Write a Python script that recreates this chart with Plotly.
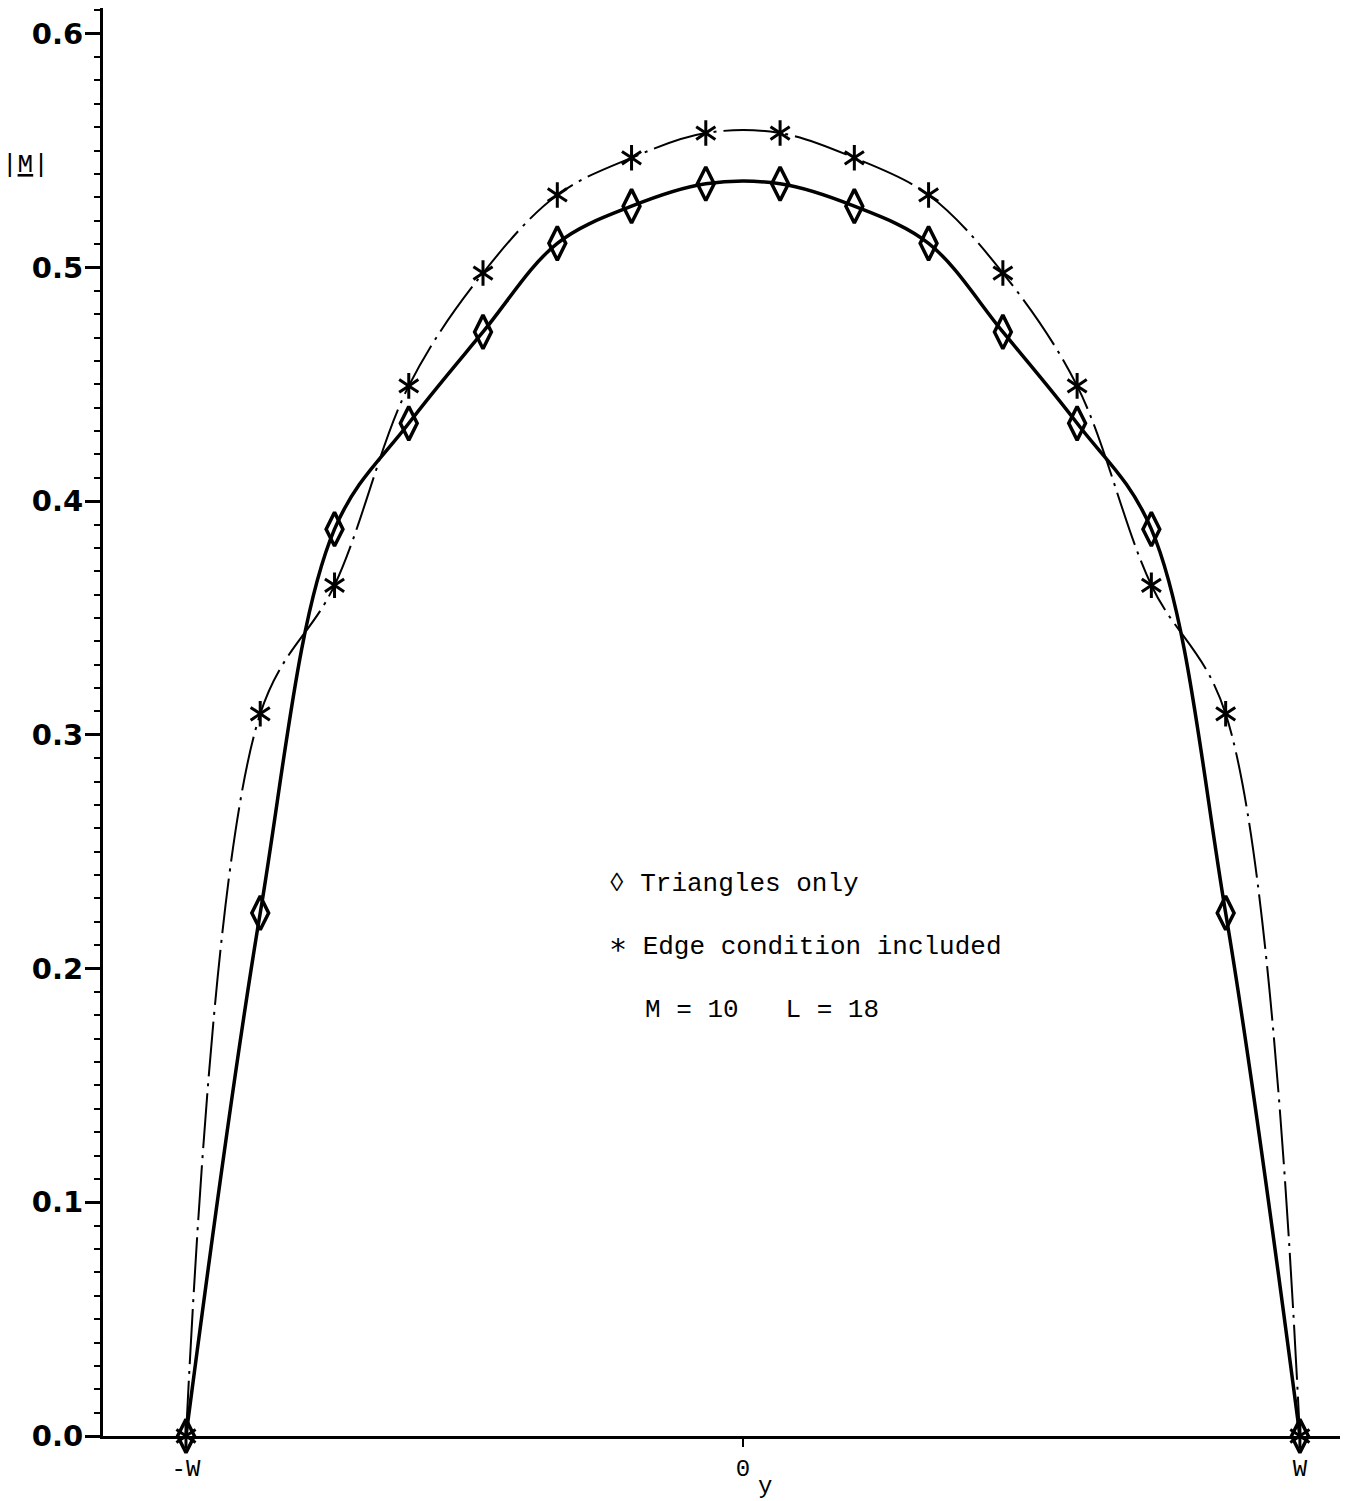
import plotly.graph_objects as go

# positions along the strip, in units of W
y_pos = [-1.0, -0.8667, -0.7333, -0.6, -0.4667, -0.3333, -0.2, -0.0667,
         0.0667, 0.2, 0.3333, 0.4667, 0.6, 0.7333, 0.8667, 1.0]

# |M| for "Triangles only" (diamonds, solid line)
m_triangles = [0.0, 0.2238, 0.3880, 0.4333, 0.4724, 0.5103, 0.5262, 0.5358,
               0.5358, 0.5262, 0.5103, 0.4724, 0.4333, 0.3880, 0.2238, 0.0]

# |M| for "Edge condition included" (stars, dash-dot line)
m_edge = [0.0, 0.3090, 0.3640, 0.4493, 0.4976, 0.5310, 0.5469, 0.5575,
          0.5575, 0.5469, 0.5310, 0.4976, 0.4493, 0.3640, 0.3090, 0.0]

x_tickvals = [-1, 0, 1]
x_ticktext = ["-W", "0", "W"]
y_tickvals = [0.0, 0.1, 0.2, 0.3, 0.4, 0.5, 0.6]
y_ticktext = ["0.0", "0.1", "0.2", "0.3", "0.4", "0.5", "0.6"]

MONO = "Liberation Mono, Courier New, monospace"

fig = go.Figure()

# dash-dot curve with stars
fig.add_trace(go.Scatter(
    x=y_pos, y=m_edge, mode="lines",
    line=dict(color="black", width=2, shape="spline", smoothing=1.0,
              dash="55px,7px,3px,7px"),
    showlegend=False, cliponaxis=False, hoverinfo="skip"))
for sym in ["y-up-open", "y-down-open"]:
    fig.add_trace(go.Scatter(
        x=y_pos, y=m_edge, mode="markers",
        marker=dict(symbol=sym, size=16, color="black",
                    line=dict(color="black", width=3)),
        showlegend=False, cliponaxis=False, hoverinfo="skip"))

# solid curve with diamonds
fig.add_trace(go.Scatter(
    x=y_pos, y=m_triangles, mode="lines+markers",
    line=dict(color="black", width=3.5, shape="spline", smoothing=1.0),
    marker=dict(symbol="diamond-tall-open", size=24, color="black",
                line=dict(color="black", width=3.5)),
    showlegend=False, cliponaxis=False, hoverinfo="skip"))

annotations = [
    dict(x=-0.244, y=0.2362, xref="x", yref="y", text="◊ Triangles only",
         showarrow=False, xanchor="left", yanchor="middle",
         font=dict(family=MONO, size=26, color="black")),
    dict(x=-0.244, y=0.2097, xref="x", yref="y",
         text="<span style='font-size:30px'>∗</span> Edge condition included",
         showarrow=False, xanchor="left", yanchor="middle",
         font=dict(family=MONO, size=26, color="black")),
    dict(x=-0.1795, y=0.1823, xref="x", yref="y", text="M = 10   L = 18",
         showarrow=False, xanchor="left", yanchor="middle",
         font=dict(family=MONO, size=26, color="black")),
    dict(x=-0.063, y=0.544, xref="paper", yref="y", text="|<u>M</u>|",
         showarrow=False, xanchor="center", yanchor="middle",
         font=dict(family=MONO, size=26, color="black")),
    dict(x=0.0395, y=-0.0357, xref="x", yref="paper", text="y",
         showarrow=False, xanchor="center", yanchor="middle",
         font=dict(family=MONO, size=24, color="black")),
]

fig.update_layout(
    width=1347, height=1501,
    margin=dict(l=103, r=7, t=8, b=65),
    paper_bgcolor="white", plot_bgcolor="white",
    annotations=annotations,
    xaxis=dict(
        range=[-1.149, 1.072], tickmode="array",
        tickvals=x_tickvals, ticktext=x_ticktext,
        showline=True, linecolor="black", linewidth=3,
        ticks="outside", ticklen=8, tickwidth=2, tickcolor="black",
        showgrid=False, zeroline=False,
        tickfont=dict(family=MONO, size=24, color="black"),
    ),
    yaxis=dict(
        range=[0, 0.611], tickmode="array",
        tickvals=y_tickvals, ticktext=y_ticktext,
        showline=True, linecolor="black", linewidth=3,
        ticks="outside", ticklen=15, tickwidth=3, tickcolor="black",
        minor=dict(dtick=0.01, ticks="outside", ticklen=6, tickwidth=2,
                   tickcolor="black", showgrid=False),
        showgrid=False, zeroline=False, ticklabelstandoff=-4,
        tickfont=dict(family="DejaVu Sans", size=29, color="black",
                      weight="bold"),
    ),
)

fig.write_html("out.html")
